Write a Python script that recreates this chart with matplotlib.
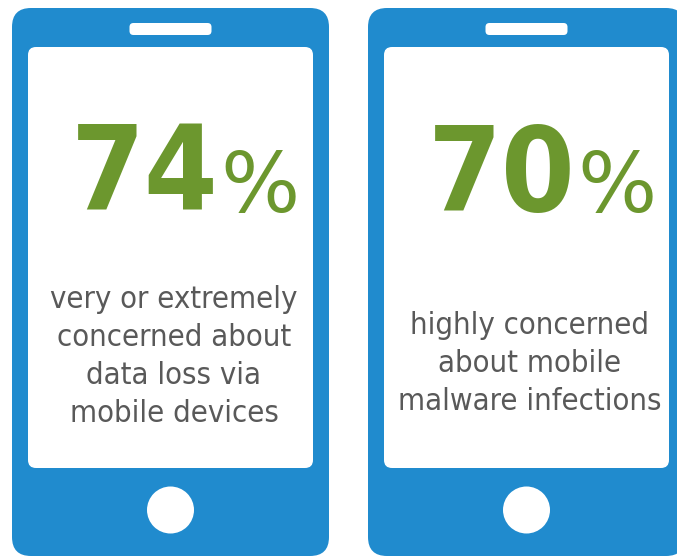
import matplotlib
matplotlib.use("Agg")
import matplotlib.pyplot as plt
from matplotlib.patches import FancyBboxPatch, Circle

W, H = 677, 556
left_value = "74"
right_value = "70"
pct_sign = "%"
left_caption = ["very or extremely", "concerned about", "data loss via", "mobile devices"]
right_caption = ["highly concerned", "about mobile", "malware infections"]

BLUE = "#208BCE"
GREEN = "#6C972E"
GREY = "#595959"

fig = plt.figure(figsize=(W / 100, H / 100), dpi=100)
ax = fig.add_axes([0, 0, 1, 1])
ax.set_xlim(0, W)
ax.set_ylim(H, 0)
ax.axis("off")


def rrect(x0, y0, x1, y1, r, **kw):
    ax.add_patch(FancyBboxPatch((x0 + r, y0 + r), x1 - x0 - 2 * r, y1 - y0 - 2 * r,
                                boxstyle=f"round,pad={r},rounding_size={r}", linewidth=0, **kw))


def phone(x0, x1, value, num_x, pct_x, caption, cap_y):
    rrect(x0, 8, x1, 556, 19, facecolor=BLUE, edgecolor="none")
    rrect(x0 + 16, 47, x1 - 16, 468, 8, facecolor="white", edgecolor="none")
    cx = (x0 + x1) / 2
    rrect(cx - 41, 23, cx + 41, 35, 4, facecolor="white", edgecolor="none")
    ax.add_patch(Circle((cx, 510), 23.5, facecolor="white", edgecolor="none"))
    ax.text(num_x, 211, value, fontsize=85, fontweight="bold", stretch="condensed",
            family="DejaVu Sans", color=GREEN, ha="left", va="baseline")
    ax.text(pct_x, 212, pct_sign, fontsize=60, family="DejaVu Sans",
            color=GREEN, ha="left", va="baseline")
    for i, line in enumerate(caption):
        ax.text(cx + 3.5, cap_y + i * 38, line, fontsize=22.2, stretch="condensed",
                family="DejaVu Sans", color=GREY, ha="center", va="center")


phone(12, 329, left_value, 71, 220, left_caption, 300)
phone(368, 685, right_value, 428, 577, right_caption, 325)

fig.savefig("out.png", dpi=100)
